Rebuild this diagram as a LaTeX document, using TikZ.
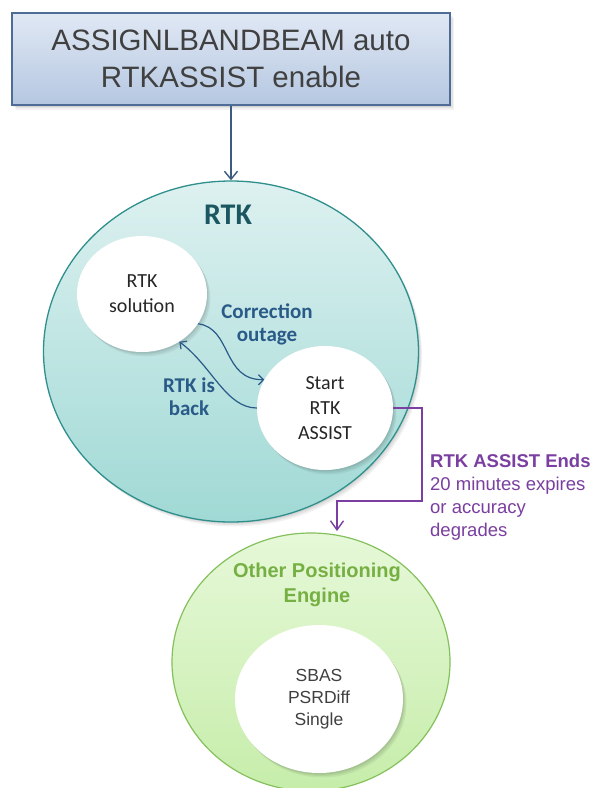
\documentclass[tikz,border=0pt]{standalone}
\usepackage{fontspec}
\setmainfont{Liberation Sans}
\newfontfamily\calfont{Carlito}
\usetikzlibrary{shapes.geometric,arrows.meta}
\definecolor{boxtop}{HTML}{E0E8F4}
\definecolor{boxbot}{HTML}{B5C7E1}
\definecolor{boxline}{HTML}{4E6C95}
\definecolor{txtgray}{HTML}{404040}
\definecolor{tealtop}{HTML}{DDF1F0}
\definecolor{tealbot}{HTML}{A0D9D5}
\definecolor{tealline}{HTML}{2F8F8C}
\definecolor{tealtxt}{HTML}{1B5761}
\definecolor{bluetxt}{HTML}{2A5A88}
\definecolor{arrowblue}{HTML}{3B5B82}
\definecolor{purp}{HTML}{7A3FA0}
\definecolor{greentop}{HTML}{E6F8D8}
\definecolor{greenbot}{HTML}{C6EDAA}
\definecolor{greenline}{HTML}{84C05C}
\definecolor{greentxt}{HTML}{76B043}
\begin{document}
\begin{tikzpicture}[x=1pt,y=-1pt,
  softshadow/.style={
    preaction={fill=black,opacity=0.05,transform canvas={xshift=3.5pt,yshift=-4.5pt}},
    preaction={fill=black,opacity=0.06,transform canvas={xshift=2.5pt,yshift=-3pt}},
    preaction={fill=black,opacity=0.07,transform canvas={xshift=1.2pt,yshift=-1.5pt}}},
  topbox/.style={draw=boxline, line width=1.2pt, top color=boxtop, bottom color=boxbot,
    minimum width=438, minimum height=92, inner sep=0, align=center, text=txtgray,
    font={\fontsize{29.5}{37}\selectfont}, softshadow},
  rtkell/.style={ellipse, draw=tealline, line width=1.3pt, top color=tealtop, bottom color=tealbot,
    minimum width=375, minimum height=341, inner sep=0, softshadow},
  whiteell/.style={ellipse, fill=white, inner sep=0, align=center, text=black!85,
    font={\calfont\fontsize{20}{25}\selectfont}, softshadow},
  greenell/.style={ellipse, draw=greenline, line width=1.2pt, top color=greentop, bottom color=greenbot,
    minimum width=278, minimum height=258, inner sep=0},
  modesell/.style={ellipse, fill=white, inner sep=0, align=center, text=txtgray,
    minimum width=168, minimum height=148, font={\fontsize{17.5}{22}\selectfont}, softshadow},
  bluelbl/.style={align=center, text=bluetxt, inner sep=0, font={\calfont\bfseries\fontsize{21}{23}\selectfont}},
  topar/.style={draw=arrowblue, line width=1.4pt, -{Straight Barb[length=8pt,width=13pt,line width=1.4pt]}},
  bluear/.style={draw=bluetxt, line width=1.2pt, -{Straight Barb[length=5pt,width=10pt,line width=1.2pt]}},
  purar/.style={draw=purp, line width=1.4pt, -{Straight Barb[length=9pt,width=13pt,line width=1.4pt]}}
]
\useasboundingbox (0,0) rectangle (593,788);
\fill[white] (0,0) rectangle (593,788);

\node[topbox] (top) at (231,59) {ASSIGNLBANDBEAM auto\\RTKASSIST enable};

\node[rtkell] (rtk) at (231,351.5) {};
\node[text=tealtxt, inner sep=0, font={\calfont\bfseries\fontsize{30}{32}\selectfont}] (rtkt) at (228,215) {RTK};

\node[whiteell, minimum width=130, minimum height=116] (sol) at (142,294) {RTK\\solution};
\node[whiteell, minimum width=136, minimum height=124] (assist) at (325,408) {Start\\RTK\\ASSIST};

\node[bluelbl] (corr) at (267,324.5) {Correction\\outage};
\node[bluelbl] (back) at (189,397) {RTK is\\back};

\node[greenell] (oth) at (311,662) {};
\node[align=center, text=greentxt, inner sep=0, font={\bfseries\fontsize{20}{25}\selectfont}] (othlbl) at (317,585) {Other Positioning\\Engine};
\node[modesell] (modes) at (319,699) {SBAS\\PSRDiff\\Single};

\node[anchor=west, align=left, text=purp, inner sep=0, font={\fontsize{18.5}{23}\selectfont}] (ends) at (430,497.5)
  {\textbf{RTK ASSIST Ends}\\20 minutes expires\\or accuracy\\degrades};

\draw[topar] (top.south) -- (rtk.north);
\draw[bluear] (sol.-28) .. controls (232,328) and (222,380) .. (assist.155);
\draw[bluear] (assist.180) .. controls (226,408) and (212,366) .. (sol.-52);
\coordinate (pb) at (422,501);
\coordinate (pt) at (337,531);
\draw[purar] (assist.east) -| (pb) -| (pt);
\end{tikzpicture}
\end{document}
